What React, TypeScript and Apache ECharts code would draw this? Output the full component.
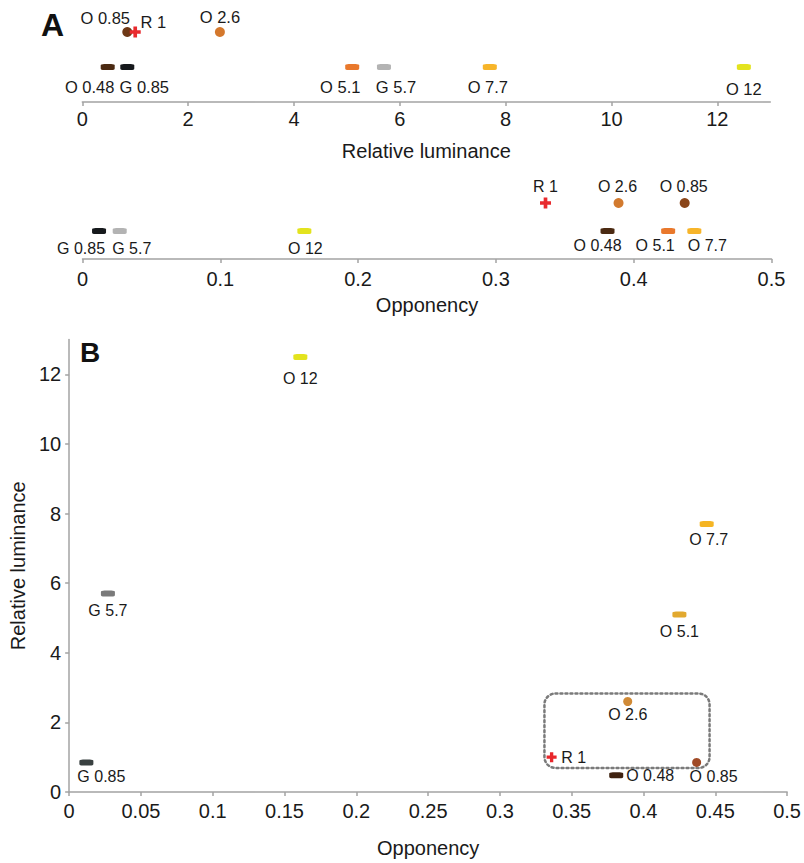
import React, { useEffect, useRef } from "react";
import * as echarts from "echarts";

// ---- data ----
const NAMES = ["O 0.48", "G 0.85", "O 0.85", "R 1", "O 2.6", "O 5.1", "G 5.7", "O 7.7", "O 12"];
const LUMINANCE = [0.48, 0.85, 0.85, 1.0, 2.6, 5.1, 5.7, 7.7, 12.5];
const OPPONENCY = [0.381, 0.012, 0.437, 0.336, 0.389, 0.425, 0.027, 0.444, 0.161];
const MARKER = ["dash", "dash", "dot", "cross", "dot", "dash", "dash", "dash", "dash"];
const LUM_RANGE = [0, 13];
const LUM_STEP = 2;
const OPP_RANGE = [0, 0.5];
const OPP_STEP_A = 0.1;
const OPP_STEP_B = 0.05;
const ROWS = ["axis", "bars", "dots"];
// highlighted group box in panel B: [opp from, lum top, opp to, lum bottom]
const BOX = [0.331, 2.83, 0.446, 0.69];

// ---- styles ----
const FONT = "'Liberation Sans', Arial, Helvetica, sans-serif";
const TXT = "#1a1a1a";
const AXIS_COLOR = "#a3a3a3";

const COLOR_A1: Record<string, string> = {
  "O 0.48": "#4b2a12", "G 0.85": "#16191c", "O 0.85": "#6e3816", "R 1": "#e82a2e",
  "O 2.6": "#d4782c", "O 5.1": "#e9782c", "G 5.7": "#b3b3b3", "O 7.7": "#f7b52a", "O 12": "#e3e31e",
};
const COLOR_A2: Record<string, string> = {
  ...COLOR_A1, "O 0.85": "#8a4519", "O 2.6": "#d27a2e",
};
const COLOR_B: Record<string, string> = {
  "O 0.48": "#3f2210", "G 0.85": "#394040", "O 0.85": "#a04a26", "R 1": "#e8262b",
  "O 2.6": "#d08a36", "O 5.1": "#e2a92f", "G 5.7": "#7a7a7a", "O 7.7": "#f5b523", "O 12": "#e3e31e",
};

const OFF_A1: Record<string, number[]> = {
  "O 0.48": [-18, 20], "G 0.85": [17, 20], "O 0.85": [-22, -14], "R 1": [18, -10],
  "O 2.6": [0, -15], "O 5.1": [-12, 20], "G 5.7": [12, 20], "O 7.7": [-2, 20], "O 12": [0, 22],
};
const OFF_A2: Record<string, number[]> = {
  "O 0.48": [-10, 14], "G 0.85": [-18, 17], "O 0.85": [-1, -17], "R 1": [0, -17],
  "O 2.6": [-1, -17], "O 5.1": [-13, 14], "G 5.7": [12, 17], "O 7.7": [13, 14], "O 12": [1, 17],
};
const OFF_B: Record<string, number[]> = {
  "O 0.48": [34, 0], "G 0.85": [15, 14], "O 0.85": [17, 14], "R 1": [22, 0],
  "O 2.6": [0, 13], "O 5.1": [0, 17], "G 5.7": [0, 17], "O 7.7": [2, 16], "O 12": [0, 22],
};

const CROSS = "path://M4,0H8V4H12V8H8V12H4V8H0V4H4Z";

function symbolFor(kind: string, panel: string) {
  if (kind === "dash") return { symbol: "roundRect", symbolSize: [14, 6] };
  if (kind === "dot") return { symbol: "circle", symbolSize: panel === "B" ? 9 : 10 };
  return { symbol: CROSS, symbolSize: panel === "B" ? 10 : 11 };
}

function buildData(panel: string) {
  const colors = panel === "A1" ? COLOR_A1 : panel === "A2" ? COLOR_A2 : COLOR_B;
  const offs = panel === "A1" ? OFF_A1 : panel === "A2" ? OFF_A2 : OFF_B;
  return NAMES.map((n, i) => {
    const row = MARKER[i] === "dash" ? "bars" : "dots";
    const value =
      panel === "A1" ? [LUMINANCE[i], row] : panel === "A2" ? [OPPONENCY[i], row] : [OPPONENCY[i], LUMINANCE[i]];
    return {
      name: n,
      value,
      ...symbolFor(MARKER[i], panel),
      itemStyle: { color: colors[n], opacity: 1 },
      label: {
        show: true,
        position: "inside",
        offset: offs[n],
        formatter: n,
        color: TXT,
        opacity: 1,
        fontFamily: FONT,
        fontSize: panel === "A1" ? 16.5 : 16,
        textBorderWidth: 0,
        align: "center",
        verticalAlign: "middle",
      },
    };
  });
}

function valueAxis(
  grid: number, range: number[], step: number, name: string, nameGap: number, margin: number, showMax: boolean
) {
  return {
    type: "value",
    gridIndex: grid,
    min: range[0],
    max: range[1],
    interval: step,
    name,
    nameLocation: "middle",
    nameGap,
    nameTextStyle: { color: TXT, fontSize: 20, fontFamily: FONT },
    axisLine: { show: true, lineStyle: { color: AXIS_COLOR, width: 1.5 } },
    axisTick: { show: true, length: 4, lineStyle: { color: AXIS_COLOR, width: 1.5 } },
    axisLabel: { color: TXT, fontSize: 20, fontFamily: FONT, margin, showMaxLabel: showMax, showMinLabel: true },
    splitLine: { show: false },
  };
}

export default function App() {
  const ref = useRef<HTMLDivElement>(null);
  useEffect(() => {
    if (!ref.current) return;
    const chart = echarts.init(ref.current, null, { renderer: "svg" });
    const option: any = {
      animation: false,
      backgroundColor: "#ffffff",
      textStyle: { fontFamily: FONT },
      grid: [
        { left: 82.3, width: 688, top: 32, height: 70 },
        { left: 82.5, width: 689, top: 203, height: 56 },
        { left: 68.3, width: 720, top: 339.5, height: 456 },
      ],
      xAxis: [
        valueAxis(0, LUM_RANGE, LUM_STEP, "Relative luminance", 39, 7, false),
        valueAxis(1, OPP_RANGE, OPP_STEP_A, "Opponency", 36, 10, true),
        valueAxis(2, OPP_RANGE, OPP_STEP_B, "Opponency", 46, 9, true),
      ],
      yAxis: [
        { type: "category", gridIndex: 0, data: ROWS, boundaryGap: false, show: false },
        { type: "category", gridIndex: 1, data: ROWS, boundaryGap: false, show: false },
        valueAxis(2, LUM_RANGE, LUM_STEP, "Relative luminance", 40, 8, false),
      ],
      graphic: [
        {
          type: "text",
          left: 41,
          top: 9,
          style: { text: "A", fontSize: 32, fontWeight: "bold", fontFamily: FONT, fill: "#111" },
        },
        {
          type: "text",
          left: 80,
          top: 338,
          style: { text: "B", fontSize: 28, fontWeight: "bold", fontFamily: FONT, fill: "#111" },
        },
      ],
      series: [
        {
          type: "custom",
          xAxisIndex: 2,
          yAxisIndex: 2,
          data: [BOX],
          silent: true,
          z: 1,
          renderItem: (_params: any, api: any) => {
            const p1 = api.coord([api.value(0), api.value(1)]);
            const p2 = api.coord([api.value(2), api.value(3)]);
            return {
              type: "rect",
              shape: { x: p1[0], y: p1[1], width: p2[0] - p1[0], height: p2[1] - p1[1], r: 11 },
              style: { fill: "none", stroke: "#7a7a7a", lineWidth: 2.5, lineDash: [2, 3], lineCap: "round" },
            };
          },
        },
        { type: "scatter", xAxisIndex: 0, yAxisIndex: 0, data: buildData("A1"), z: 3 },
        { type: "scatter", xAxisIndex: 1, yAxisIndex: 1, data: buildData("A2"), z: 3 },
        { type: "scatter", xAxisIndex: 2, yAxisIndex: 2, data: buildData("B"), z: 3 },
      ],
    };
    chart.setOption(option);
    return () => chart.dispose();
  }, []);
  return (
    <div
      ref={ref}
      style={{ position: "absolute", left: 0, top: 0, width: 804, height: 863, background: "#fff" }}
    />
  );
}
